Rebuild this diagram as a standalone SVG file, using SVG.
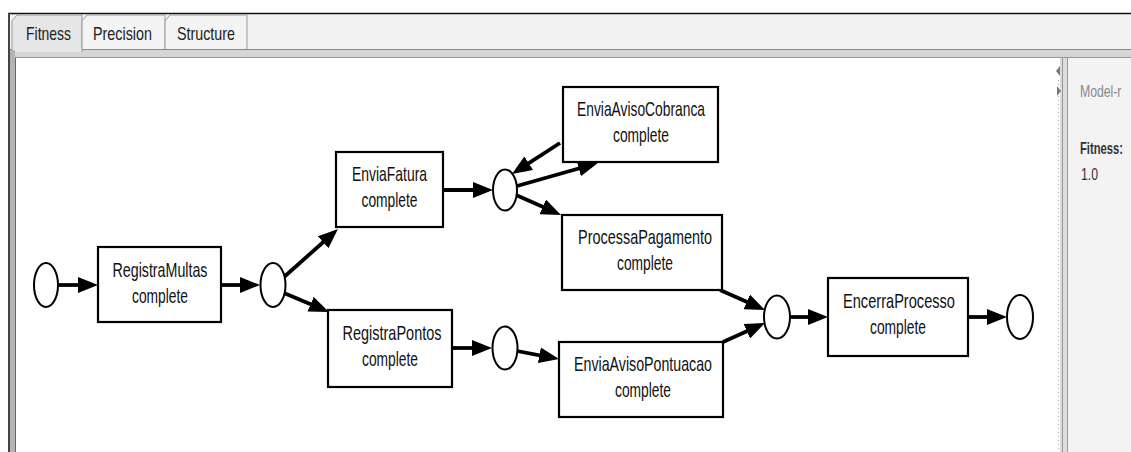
<svg xmlns="http://www.w3.org/2000/svg" width="1131" height="452" viewBox="0 0 1131 452">
<defs>
<marker id="ah" viewBox="0 0 20 16" refX="11" refY="8" markerWidth="20" markerHeight="16" markerUnits="userSpaceOnUse" orient="auto">
<path d="M0,0 L20,8 L0,16 z" fill="#000"/>
</marker>
</defs>
<style>
.box{fill:#fff;stroke:#000;stroke-width:2.2}
.pl{fill:#fff;stroke:#000;stroke-width:2}
.lbl{font-family:"Liberation Sans",Arial,sans-serif;font-size:21px;fill:#111;text-anchor:middle}
.edge{stroke:#000;stroke-width:3.8;fill:none;marker-end:url(#ah)}
.tab{font-family:"Liberation Sans",Arial,sans-serif;font-size:19px;fill:#222}
.side{font-family:"Liberation Sans",Arial,sans-serif;font-size:17px}
</style>
<rect x="0" y="0" width="1131" height="452" fill="#fff"/>
<!-- tab bar -->
<rect x="8" y="13" width="1123" height="37" fill="#f2f2f2"/>
<line x1="8" y1="13.5" x2="1131" y2="13.5" stroke="#111" stroke-width="1.5"/>
<rect x="8" y="49" width="1123" height="9" fill="#d6d6d6"/>
<line x1="8" y1="49.5" x2="1131" y2="49.5" stroke="#888"/>
<line x1="8" y1="57.5" x2="1131" y2="57.5" stroke="#999"/>
<g id="tabs">
<path d="M12,52 L12,21 L17,15 L82,15 L82,52" fill="#e6e6e6" stroke="#999"/>
<path d="M82,49 L82,21 L87,15 L165,15 L165,49" fill="#f4f4f4" stroke="#999"/>
<path d="M165,49 L165,21 L170,15 L247,15 L247,49" fill="#f4f4f4" stroke="#999"/>
<text class="tab" x="26" y="40" textLength="45" lengthAdjust="spacingAndGlyphs">Fitness</text>
<text class="tab" x="93" y="40" textLength="59" lengthAdjust="spacingAndGlyphs">Precision</text>
<text class="tab" x="177" y="40" textLength="58" lengthAdjust="spacingAndGlyphs">Structure</text>
</g>
<!-- left frame -->
<rect x="8" y="13" width="2" height="439" fill="#444"/>
<rect x="10" y="50" width="5" height="402" fill="#b4b4b4"/>
<rect x="15" y="58" width="1" height="394" fill="#666"/>
<!-- right panel -->
<rect x="1068" y="58" width="63" height="394" fill="#f3f3f3"/>
<rect x="1060" y="58" width="8" height="394" fill="#dcdcdc"/>
<line x1="1062.5" y1="58" x2="1062.5" y2="452" stroke="#999"/>
<line x1="1067.5" y1="58" x2="1067.5" y2="452" stroke="#999"/>
<line x1="1058.5" y1="80" x2="1058.5" y2="452" stroke="#aaa" stroke-dasharray="1,3"/>
<path d="M1060,66 L1056,71 L1060,76 z" fill="#777"/>
<path d="M1057,86 L1061,91 L1057,96 z" fill="#777"/>
<g id="side-panel">
<text class="side" transform="translate(1080,97) scale(0.72,1)" x="0" y="0" fill="#888">Model-r</text>
<text class="side" transform="translate(1080,154) scale(0.66,1)" x="0" y="0" fill="#333" font-weight="bold">Fitness:</text>
<text class="side" transform="translate(1081,180) scale(0.72,1)" x="0" y="0" fill="#333">1.0</text>
</g>
<!-- connectors -->
<g id="connectors">
<line class="edge" x1="58" y1="285" x2="89" y2="285"/>
<line class="edge" x1="221" y1="285" x2="251" y2="285"/>
<line class="edge" x1="284" y1="277" x2="331.3" y2="235"/>
<line class="edge" x1="284" y1="293" x2="320.7" y2="308.5"/>
<line class="edge" x1="443" y1="190" x2="484" y2="190"/>
<line class="edge" x1="517" y1="186" x2="589.3" y2="165.5"/>
<line class="edge" x1="560" y1="143" x2="519.5" y2="169.1"/>
<line class="edge" x1="516" y1="195" x2="552.8" y2="211.3"/>
<line class="edge" x1="720" y1="290" x2="756.8" y2="306.3"/>
<line class="edge" x1="723" y1="342" x2="756.8" y2="326.7"/>
<line class="edge" x1="452" y1="348" x2="483" y2="348"/>
<line class="edge" x1="517" y1="351" x2="550.2" y2="357.3"/>
<line class="edge" x1="790" y1="317" x2="819" y2="317"/>
<line class="edge" x1="968" y1="317" x2="998" y2="317"/>
</g>
<!-- places -->
<g id="p_start"><ellipse class="pl" cx="46" cy="285" rx="12" ry="22"/></g>
<g id="p1"><ellipse class="pl" cx="273" cy="285" rx="12.5" ry="22"/></g>
<g id="p2"><ellipse class="pl" cx="505" cy="190" rx="12" ry="20.5"/></g>
<g id="p3"><ellipse class="pl" cx="505" cy="348" rx="12.5" ry="21.5"/></g>
<g id="p4"><ellipse class="pl" cx="777" cy="317" rx="13" ry="21.5"/></g>
<g id="p_end"><ellipse class="pl" cx="1020" cy="317" rx="13" ry="22"/></g>
<!-- transitions -->
<g id="t_RegistraMultas">
<rect class="box" x="98" y="247" width="123" height="75"/>
<text class="lbl" x="160" y="277" textLength="95" lengthAdjust="spacingAndGlyphs">RegistraMultas</text>
<text class="lbl" x="160" y="303" textLength="56" lengthAdjust="spacingAndGlyphs">complete</text>
</g>
<g id="t_EnviaFatura">
<rect class="box" x="336" y="152" width="107" height="75"/>
<text class="lbl" x="389.5" y="181" textLength="75" lengthAdjust="spacingAndGlyphs">EnviaFatura</text>
<text class="lbl" x="389.5" y="207" textLength="56" lengthAdjust="spacingAndGlyphs">complete</text>
</g>
<g id="t_EnviaAvisoCobranca">
<rect class="box" x="563" y="87" width="155" height="75"/>
<text class="lbl" x="641" y="116" textLength="128" lengthAdjust="spacingAndGlyphs">EnviaAvisoCobranca</text>
<text class="lbl" x="641" y="142" textLength="56" lengthAdjust="spacingAndGlyphs">complete</text>
</g>
<g id="t_ProcessaPagamento">
<rect class="box" x="562" y="215" width="160" height="75"/>
<text class="lbl" x="645" y="244" textLength="134" lengthAdjust="spacingAndGlyphs">ProcessaPagamento</text>
<text class="lbl" x="645" y="270" textLength="56" lengthAdjust="spacingAndGlyphs">complete</text>
</g>
<g id="t_RegistraPontos">
<rect class="box" x="328" y="310" width="124" height="77"/>
<text class="lbl" x="392" y="340" textLength="99" lengthAdjust="spacingAndGlyphs">RegistraPontos</text>
<text class="lbl" x="390" y="366" textLength="56" lengthAdjust="spacingAndGlyphs">complete</text>
</g>
<g id="t_EnviaAvisoPontuacao">
<rect class="box" x="559" y="342" width="164" height="75"/>
<text class="lbl" x="643" y="371" textLength="138" lengthAdjust="spacingAndGlyphs">EnviaAvisoPontuacao</text>
<text class="lbl" x="643" y="397" textLength="56" lengthAdjust="spacingAndGlyphs">complete</text>
</g>
<g id="t_EncerraProcesso">
<rect class="box" x="828" y="278" width="140" height="78"/>
<text class="lbl" x="899" y="308" textLength="112" lengthAdjust="spacingAndGlyphs">EncerraProcesso</text>
<text class="lbl" x="898" y="334" textLength="56" lengthAdjust="spacingAndGlyphs">complete</text>
</g>
</svg>
